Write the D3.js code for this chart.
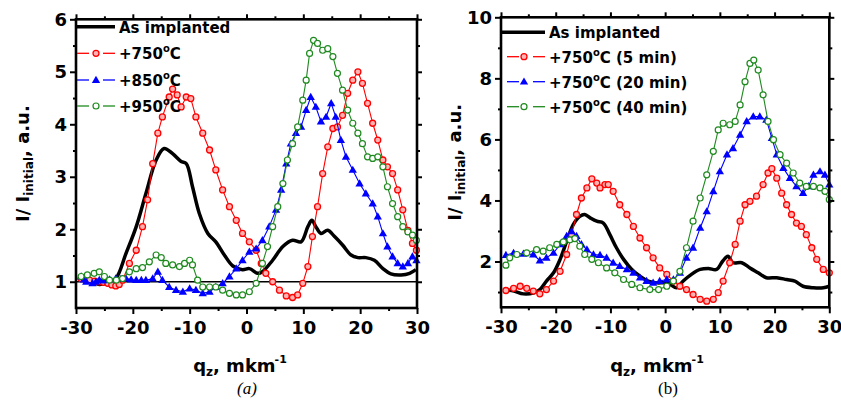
<!DOCTYPE html>
<html>
<head>
<meta charset="utf-8">
<script src="https://cdn.jsdelivr.net/npm/d3@7"></script>
<style>
  body { margin: 0; background: #fff; }
  svg { display: block; }
</style>
</head>
<body>
<svg id="chart" width="841" height="401" font-family="DejaVu Sans" font-weight="bold"></svg>
<script>
// ---- data: [q_z, I/I_initial] ----
var xTicks = [-30, -20, -10, 0, 10, 20, 30];
var yTicksA = [1, 2, 3, 4, 5, 6];
var yTicksB = [2, 4, 6, 8, 10];

var legendA = ["As implanted", "+750", "+850", "+950"];
var legendB = ["As implanted", "+750", "+750", "+750"];
var legendSuffixB = ["", " (5 min)", " (20 min)", " (40 min)"];

// panel (a)
var implantedA = [[-29.1,1.06],[-27.5,1.0],[-25.9,0.95],[-24.5,0.98],[-23,1.06],[-21.2,1.54],[-19.4,2.05],[-17.7,2.68],[-15.9,3.32],[-14.5,3.54],[-13,3.44],[-11.5,3.29],[-10.6,3.25],[-9.5,2.81],[-8.3,2.3],[-6.8,1.92],[-5.4,1.76],[-3.9,1.51],[-2.4,1.3],[-0.7,1.23],[0.5,1.25],[2,1.16],[2.8,1.19],[4.6,1.41],[6.4,1.67],[8.1,1.79],[9.6,1.76],[10.8,2.05],[11.5,2.17],[12.2,2.05],[13.1,1.92],[14.3,1.98],[15.5,1.86],[16.9,1.70],[18.4,1.51],[19.6,1.46],[21,1.46],[22.5,1.41],[24,1.25],[25.4,1.15],[27.2,1.13],[28.7,1.16],[29.8,1.23]];
var t750A = [[-29.1,1.06],[-28.4,1.05],[-27.6,1.03],[-26.7,1.01],[-25.9,1.0],[-25.2,0.99],[-24.4,0.97],[-23.7,0.94],[-23,0.92],[-22.4,0.95],[-21.8,1.03],[-20.6,1.35],[-19.4,1.6],[-18.3,2.05],[-17.4,2.56],[-16.5,3.25],[-15.6,3.83],[-14.8,4.14],[-13.6,4.52],[-13,4.67],[-12.2,4.56],[-11.5,4.33],[-10.6,4.52],[-9.8,4.49],[-8.9,4.14],[-7.7,3.83],[-6.5,3.51],[-5.4,3.13],[-4.2,2.75],[-3.0,2.43],[-1.8,2.17],[-0.7,1.92],[0.5,1.76],[1.7,1.60],[2.6,1.35],[3.4,1.16],[4.6,1.0],[5.8,0.84],[7.0,0.73],[8.1,0.70],[9,0.75],[9.9,0.97],[10.8,1.29],[11.6,1.86],[12.5,2.43],[13.4,3.06],[14.3,3.57],[15.2,3.92],[16,3.95],[16.9,4.17],[17.8,4.59],[18.7,4.84],[19.6,5.0],[20.4,4.78],[21.3,4.40],[22.2,4.02],[23.1,3.70],[24,3.32],[24.8,3.19],[25.7,3.06],[26.6,2.75],[27.5,2.37],[28.4,1.98],[29.2,1.73],[29.9,1.6]];
var t850A = [[-29.1,1.1],[-28.6,1.04],[-28.2,1.0],[-27.1,0.97],[-26.5,1.0],[-25.9,1.03],[-25.3,1.02],[-24.7,1.03],[-24.1,1.04],[-23,1.06],[-22.1,1.05],[-21.2,1.06],[-20.3,1.04],[-19.4,1.03],[-18.5,1.03],[-17.7,1.03],[-16.5,1.06],[-15.6,1.19],[-14.8,1.03],[-13.6,0.9],[-12.4,0.84],[-11.2,0.81],[-10,0.87],[-8.9,0.84],[-7.7,0.78],[-6.5,0.81],[-5.4,0.9],[-4.2,0.97],[-3,1.1],[-1.8,1.25],[-0.7,1.41],[0.5,1.57],[1.7,1.63],[2.8,1.79],[4,2.05],[5.2,2.37],[6.1,2.75],[7,3.25],[7.8,3.63],[8.7,3.83],[9.6,3.95],[10.5,4.27],[11.3,4.52],[12.2,4.33],[13.1,4.05],[14,4.14],[14.9,4.40],[15.7,4.14],[16.6,3.70],[17.5,3.38],[18.7,3.13],[19.9,2.87],[21,2.68],[22.2,2.49],[23.1,2.24],[24,1.92],[24.8,1.67],[25.7,1.48],[26.6,1.35],[27.5,1.29],[28.4,1.35],[29.2,1.48],[29.9,1.41]];
var t950A = [[-29.1,1.1],[-28,1.13],[-26.8,1.16],[-25.9,1.19],[-25,1.1],[-24.1,1.03],[-22.9,1.03],[-21.8,1.06],[-20.6,1.19],[-19.4,1.25],[-18.3,1.27],[-17.1,1.38],[-15.9,1.51],[-15,1.46],[-14.2,1.35],[-13,1.32],[-11.8,1.29],[-10.9,1.35],[-10,1.41],[-9.5,1.32],[-8.6,1.03],[-7.7,0.9],[-6.5,0.9],[-5.4,0.9],[-4.2,0.84],[-3,0.78],[-1.8,0.75],[-0.7,0.75],[0.5,0.81],[1.7,0.97],[2.8,1.35],[3.7,1.67],[4.6,2.05],[5.5,2.43],[6.4,2.87],[7.2,3.32],[8.1,3.63],[9,3.95],[9.9,4.46],[10.5,4.84],[11.1,5.35],[11.8,5.60],[12.5,5.54],[13.4,5.41],[14.3,5.44],[15.2,5.29],[16,4.97],[16.9,4.65],[17.8,4.27],[18.7,4.02],[19.6,3.83],[20.4,3.63],[21.3,3.38],[22.2,3.35],[23.1,3.38],[24,3.19],[24.8,2.81],[25.7,2.49],[26.6,2.24],[27.5,2.05],[28.4,1.95],[29.2,1.89],[29.9,1.79]];

// panel (b)
var implantedB = [[-29.1,1.08],[-27.6,1.03],[-25.9,0.94],[-24.1,0.97],[-22.9,1.08],[-21.7,1.36],[-20.4,1.63],[-19.2,2.07],[-18,2.66],[-16.8,3.21],[-15.6,3.48],[-14.7,3.54],[-13.7,3.43],[-12.5,3.32],[-11.3,3.26],[-10.1,2.88],[-8.9,2.45],[-7.6,2.07],[-6.1,1.74],[-4.6,1.52],[-3.1,1.36],[-1.5,1.30],[0,1.3],[0.9,1.25],[2.1,1.14],[3.3,1.36],[4.8,1.58],[6.4,1.74],[7.9,1.77],[9.4,1.74],[10.5,2.01],[11.5,2.17],[12.4,1.96],[14,1.96],[15.5,1.79],[17,1.63],[18.5,1.47],[20.4,1.47],[22.2,1.41],[23.7,1.36],[25.2,1.19],[27.1,1.14],[28.9,1.14],[30,1.19]];
var t5minB = [[-29.1,1.05],[-27.7,1.12],[-26.5,1.19],[-25.3,1.12],[-24.1,1.03],[-22.9,0.94],[-21.7,1.08],[-20.4,1.36],[-19.2,1.68],[-18,2.23],[-17.1,2.88],[-16.2,3.54],[-15.3,4.08],[-14.3,4.41],[-13.4,4.71],[-12.5,4.57],[-11.9,4.41],[-11,4.52],[-10.4,4.52],[-9.5,4.30],[-8.3,3.86],[-7.0,3.54],[-5.8,3.15],[-4.6,2.77],[-3.4,2.45],[-2.2,2.12],[-1,1.79],[0.3,1.58],[1.5,1.36],[2.7,1.19],[3.9,1.08],[5.1,0.92],[6.4,0.76],[7.6,0.70],[8.8,0.76],[9.7,0.98],[10.6,1.36],[11.8,1.96],[12.8,2.56],[13.7,3.32],[14.6,3.86],[15.5,3.97],[16.7,4.14],[17.9,4.52],[18.8,4.90],[19.5,5.04],[20.4,4.73],[21.3,4.24],[22.2,3.86],[23.1,3.54],[24,3.26],[24.9,3.15],[25.8,2.88],[26.8,2.45],[27.7,2.07],[28.9,1.74],[30,1.63]];
var t20minB = [[-29.1,2.21],[-27.7,2.28],[-25.9,2.25],[-24.1,2.23],[-22.9,2.03],[-21.7,2.12],[-20.4,2.28],[-19.2,2.56],[-18,2.83],[-17.1,2.99],[-16.2,2.83],[-15.3,2.56],[-14.3,2.39],[-13.1,2.23],[-11.9,2.21],[-10.7,2.12],[-9.5,1.96],[-8.3,1.85],[-7.0,1.74],[-5.8,1.63],[-4.6,1.47],[-3.4,1.36],[-2.2,1.30],[-1,1.36],[0.3,1.41],[1.5,1.41],[2.7,1.63],[3.9,2.12],[5.1,2.45],[6.4,3.10],[7.6,3.64],[8.8,4.30],[10,4.95],[11.3,5.50],[12.4,5.71],[13.7,6.15],[14.9,6.59],[16.1,6.75],[17.3,6.75],[18.5,6.64],[19.5,6.04],[20.4,5.50],[21.6,5.06],[22.8,4.73],[24,4.46],[25.2,4.24],[26.2,4.46],[27.1,4.84],[28.3,4.95],[29.2,4.84],[30,4.52]];
var t40minB = [[-29.1,1.88],[-28.4,2.12],[-27.1,2.23],[-25.3,2.28],[-23.5,2.39],[-22.3,2.34],[-21.1,2.45],[-19.8,2.56],[-18.6,2.64],[-17.4,2.71],[-16.5,2.75],[-15.6,2.50],[-14.7,2.23],[-13.4,2.07],[-12.2,1.96],[-10.7,1.79],[-9.2,1.63],[-7.6,1.41],[-6.1,1.25],[-4.6,1.14],[-2.8,1.08],[-1.2,1.08],[0.3,1.19],[1.5,1.36],[2.7,1.68],[3.9,2.45],[5.1,3.32],[6.4,4.08],[7.6,4.84],[8.8,5.61],[9.7,6.31],[10.6,6.53],[11.8,6.48],[12.8,6.59],[13.7,7.13],[14.6,7.89],[15.5,8.49],[16.2,8.60],[17,8.27],[17.9,7.46],[18.8,6.59],[19.8,5.99],[21,5.50],[22.2,5.22],[23.4,4.90],[24.6,4.57],[25.8,4.46],[27.1,4.46],[28.3,4.41],[29.2,4.30],[30,4.03]];

var svg = d3.select("#chart");

var RED = "#ff0000", BLUE = "#0000ff", GREEN = "#1f8a1f";

function drawMarker(g, kind, cx, cy) {
  if (kind === "half") {
    g.append("circle").attr("cx", cx).attr("cy", cy).attr("r", 3)
      .attr("fill", "#ffb3b3").attr("stroke", RED).attr("stroke-width", 1.3);
  } else if (kind === "tri") {
    g.append("path").attr("d", d3.symbol(d3.symbolTriangle, 30)())
      .attr("transform", "translate(" + cx + "," + (cy + 0.5) + ")")
      .attr("fill", BLUE);
  } else if (kind === "open") {
    g.append("circle").attr("cx", cx).attr("cy", cy).attr("r", 3)
      .attr("fill", "#fff").attr("stroke", GREEN).attr("stroke-width", 1.2);
  }
}

function panel(opts) {
  var x = d3.scaleLinear().domain([-30, 30]).range(opts.xr);
  var y = d3.scaleLinear().domain(opts.yd).range(opts.yr);
  var g = svg.append("g");

  var line = d3.line().x(d => x(d[0])).y(d => y(d[1]));

  if (opts.refLine) {
    g.append("line").attr("x1", x(-30)).attr("x2", x(30))
      .attr("y1", y(1)).attr("y2", y(1))
      .attr("stroke", "#000").attr("stroke-width", 1.5);
  }

  // series
  opts.series.forEach(function(s) {
    var l = s.marker ? line.curve(d3.curveLinear) : line.curve(d3.curveCatmullRom);
    g.append("path").datum(s.data).attr("d", l)
      .attr("fill", "none").attr("stroke", s.color)
      .attr("stroke-width", s.marker ? 1.1 : 3.5)
      .attr("stroke-linejoin", "round");
    if (s.marker) {
      var mg = g.append("g");
      s.data.forEach(function(d) { drawMarker(mg, s.marker, x(d[0]), y(d[1])); });
    }
  });

  // axes: major + minor ticks outward, mirrored on all sides
  var x0 = opts.xr[0], x1 = opts.xr[1], y0 = opts.yr[0], y1 = opts.yr[1];
  var fmt = d => String(d);
  var minorX = d3.range(-25, 30, 10);

  g.append("g").attr("transform", "translate(0," + y0 + ")")
    .call(d3.axisBottom(x).tickValues(xTicks).tickFormat(fmt).tickSize(6).tickPadding(7));
  g.append("g").attr("transform", "translate(0," + y0 + ")")
    .call(d3.axisBottom(x).tickValues(minorX).tickFormat("").tickSize(3));
  g.append("g").attr("transform", "translate(0," + y1 + ")")
    .call(d3.axisTop(x).tickValues(xTicks).tickFormat("").tickSize(5));
  g.append("g").attr("transform", "translate(0," + y1 + ")")
    .call(d3.axisTop(x).tickValues(minorX).tickFormat("").tickSize(3));

  g.append("g").attr("transform", "translate(" + x0 + ",0)")
    .call(d3.axisLeft(y).tickValues(opts.yTicks).tickFormat(fmt).tickSize(6).tickPadding(3));
  g.append("g").attr("transform", "translate(" + x0 + ",0)")
    .call(d3.axisLeft(y).tickValues(opts.yMinor).tickFormat("").tickSize(3));
  g.append("g").attr("transform", "translate(" + x1 + ",0)")
    .call(d3.axisRight(y).tickValues(opts.yTicks).tickFormat("").tickSize(5));
  g.append("g").attr("transform", "translate(" + x1 + ",0)")
    .call(d3.axisRight(y).tickValues(opts.yMinor).tickFormat("").tickSize(3));

  g.selectAll(".domain").remove();
  g.selectAll("g.tick").selectAll("line").attr("stroke", "#000").attr("stroke-width", 2);
  g.selectAll("g.tick").selectAll("text").attr("font-family", "DejaVu Sans").attr("font-weight", "bold")
    .attr("font-size", 18).attr("fill", "#000");

  g.append("rect").attr("x", x0).attr("y", y1).attr("width", x1 - x0).attr("height", y0 - y1)
    .attr("fill", "none").attr("stroke", "#000").attr("stroke-width", 2.6);

  // legend
  var lg = g.append("g");
  opts.series.forEach(function(s, i) {
    var ly = opts.legY[i];
    if (!s.marker) {
      lg.append("line").attr("x1", opts.legX[0]).attr("x2", opts.legX[3])
        .attr("y1", ly).attr("y2", ly).attr("stroke", s.color).attr("stroke-width", 3.5);
    } else {
      lg.append("line").attr("x1", opts.legX[1]).attr("x2", opts.legX[1] + 12)
        .attr("y1", ly).attr("y2", ly).attr("stroke", s.color).attr("stroke-width", 1.3);
      lg.append("line").attr("x1", opts.legX[3] - 12).attr("x2", opts.legX[3])
        .attr("y1", ly).attr("y2", ly).attr("stroke", s.color).attr("stroke-width", 1.3);
      drawMarker(lg, s.marker, opts.legX[2], ly);
    }
    var t = lg.append("text").attr("x", opts.legX[3] + 4).attr("y", ly + 6)
      .attr("font-size", 15).attr("fill", "#000");
    t.append("tspan").text(opts.labels[i]);
    if (i > 0) {
      t.append("tspan").attr("font-size", 10).attr("dy", -7).text("o");
      t.append("tspan").attr("dy", 7).text("C" + opts.suffix[i]);
    }
  });

  // axis titles
  var xt = g.append("text").attr("x", opts.xTitleX).attr("y", 372)
    .attr("text-anchor", "middle").attr("font-size", 18).attr("fill", "#000");
  xt.append("tspan").text("q");
  xt.append("tspan").attr("font-size", 12).attr("dy", 4).text("z");
  xt.append("tspan").attr("dy", -4).text(", mkm");
  xt.append("tspan").attr("font-size", 11).attr("dx", -1).attr("dy", -9).text("-1");

  var yt = g.append("text")
    .attr("transform", "translate(" + opts.yTitleX + "," + ((y0 + y1) / 2) + ") rotate(-90)")
    .attr("text-anchor", "middle").attr("font-size", 18).attr("fill", "#000");
  yt.append("tspan").text("I/ I");
  yt.append("tspan").attr("font-size", 12).attr("dy", 4).text("initial");
  yt.append("tspan").attr("dy", -4).text(", a.u.");

  g.append("text").attr("x", opts.capX).attr("y", 394).attr("text-anchor", "middle")
    .attr("font-family", "Liberation Serif").attr("font-weight", "normal")
    .attr("font-style", opts.capItalic ? "italic" : "normal")
    .attr("font-size", 17).attr("fill", "#000").text(opts.caption);
}

panel({
  xr: [76, 417], yd: [0.5, 6], yr: [308, 19.3],
  yTicks: yTicksA, yMinor: d3.range(1.5, 6, 1),
  refLine: true,
  series: [
    { data: implantedA, color: "#000" },
    { data: t750A, color: RED, marker: "half" },
    { data: t850A, color: BLUE, marker: "tri" },
    { data: t950A, color: GREEN, marker: "open" }
  ],
  labels: legendA, suffix: ["", "", "", ""],
  legX: [77, 77, 96, 115], legY: [26.7, 53.3, 80, 106],
  xTitleX: 240, yTitleX: 29, capX: 247, caption: "(a)", capItalic: true
});

panel({
  xr: [501, 829.3], yd: [0.5, 10], yr: [307.3, 17.3],
  yTicks: yTicksB, yMinor: d3.range(1, 10, 2),
  refLine: false,
  series: [
    { data: implantedB, color: "#000" },
    { data: t5minB, color: RED, marker: "half" },
    { data: t20minB, color: BLUE, marker: "tri" },
    { data: t40minB, color: GREEN, marker: "open" }
  ],
  labels: legendB, suffix: legendSuffixB,
  legX: [501, 507, 524, 545], legY: [32.3, 56.7, 81.7, 106.7],
  xTitleX: 657, yTitleX: 461, capX: 668, caption: "(b)", capItalic: false
});
</script>
</body>
</html>
